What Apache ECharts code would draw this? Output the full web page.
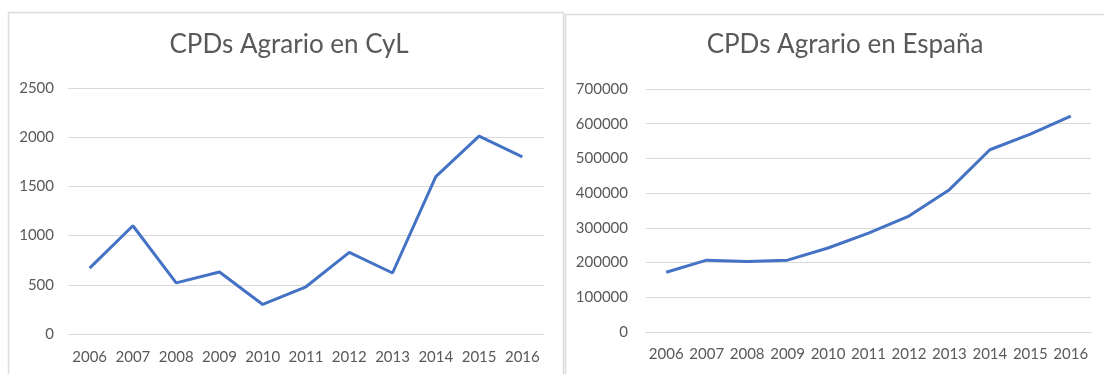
<!DOCTYPE html>
<html>
<head>
<meta charset="utf-8">
<script src="https://cdn.jsdelivr.net/npm/echarts@6/dist/echarts.min.js"></script>
<style>
  html, body { margin: 0; padding: 0; background: #fff; }
  #main { width: 1104px; height: 374px; }
</style>
</head>
<body>
<div id="main"></div>
<script>
var years = ['2006', '2007', '2008', '2009', '2010', '2011', '2012', '2013', '2014', '2015', '2016'];
var cylValues = [670, 1100, 520, 630, 300, 480, 830, 620, 1600, 2010, 1800];
var espanaValues = [172000, 207000, 203000, 207000, 242000, 285000, 334000, 410000, 525000, 570000, 622000];
var titleCyl = 'CPDs Agrario en CyL';
var titleEspana = 'CPDs Agrario en España';

var textColor = '#595959';
var gridColor = '#d9d9d9';
var lineColor = '#4472c4';
var font = 'Lato';

function xAxisFor(gridIndex, margin) {
    return {
        type: 'category',
        gridIndex: gridIndex,
        data: years,
        boundaryGap: true,
        axisLine: { show: true, lineStyle: { color: gridColor } },
        axisTick: { show: false },
        axisLabel: { color: textColor, fontSize: 15, fontFamily: font, margin: margin, interval: 0 }
    };
}

function yAxisFor(gridIndex, max, interval, margin) {
    return {
        type: 'value',
        gridIndex: gridIndex,
        min: 0,
        max: max,
        interval: interval,
        axisLine: { show: false },
        axisTick: { show: false },
        axisLabel: {
            color: textColor, fontSize: 15, fontFamily: font, margin: margin,
            formatter: function (v) { return String(v); }
        },
        splitLine: { lineStyle: { color: gridColor, width: 1 } }
    };
}

var chart = echarts.init(document.getElementById('main'));
chart.setOption({
    backgroundColor: '#fff',
    animation: false,
    title: [
        {
            text: titleCyl, left: 284, top: 27, textAlign: 'center',
            textStyle: { color: textColor, fontSize: 26, fontWeight: 'normal', fontFamily: font }
        },
        {
            text: titleEspana, left: 840, top: 27, textAlign: 'center',
            textStyle: { color: textColor, fontSize: 26, fontWeight: 'normal', fontFamily: font }
        }
    ],
    graphic: [
        { type: 'rect', shape: { x: 8.5, y: 12.5, width: 555, height: 370 }, style: { fill: 'none', stroke: '#dcdcdc', lineWidth: 1.5 }, silent: true },
        { type: 'rect', shape: { x: 565.5, y: 14.5, width: 560, height: 370 }, style: { fill: 'none', stroke: '#dcdcdc', lineWidth: 1.5 }, silent: true }
    ],
    grid: [
        { left: 68, width: 476, top: 88, height: 246 },
        { left: 646, width: 445, top: 89, height: 243 }
    ],
    xAxis: [xAxisFor(0, 16), xAxisFor(1, 15)],
    yAxis: [yAxisFor(0, 2500, 500, 14), yAxisFor(1, 700000, 100000, 18)],
    series: [
        {
            type: 'line', xAxisIndex: 0, yAxisIndex: 0, data: cylValues,
            symbol: 'none', lineStyle: { color: lineColor, width: 3 }
        },
        {
            type: 'line', xAxisIndex: 1, yAxisIndex: 1, data: espanaValues,
            symbol: 'none', lineStyle: { color: lineColor, width: 3 }
        }
    ]
});
</script>
</body>
</html>
